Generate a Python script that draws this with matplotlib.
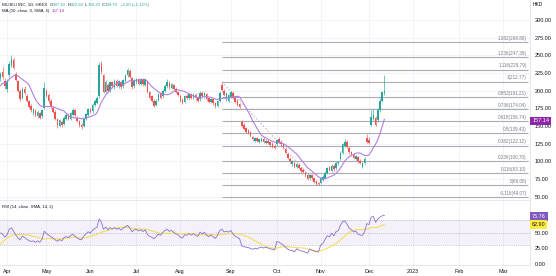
import matplotlib
matplotlib.use("Agg")
import matplotlib.pyplot as plt
import matplotlib.transforms as mtransforms
import numpy as np
import pandas as pd

plt.rcParams.update({"font.family": ["Liberation Sans", "DejaVu Sans"]})

W, H = 556, 276
UP, DOWN = "#26a69a", "#ef5350"
INK, GREY = "#131722", "#787b86"
MA_COL, RSI_COL, SIG_COL = "#b27fe0", "#8a6fd0", "#f6dc5c"

# --- data (BILIBILI INC, HKEX, daily) -------------------------------------------
hk_holidays = ["2022-04-05", "2022-04-15", "2022-04-18", "2022-05-02", "2022-05-09",
               "2022-06-03", "2022-07-01", "2022-09-12", "2022-10-04", "2022-12-26",
               "2022-12-27", "2023-01-02"]
first_day, last_axis_day = "2022-03-29", "2023-03-31"

opens = [218, 226, 214, 203, 222, 236, 243, 224, 213, 200, 190, 202, 192, 185, 178, 168,
         172, 164, 168, 164, 175, 200, 194, 186, 176, 170, 160, 150, 156, 153, 160, 166,
         160, 166, 172, 162, 157, 152, 150, 160, 166, 174, 171, 180, 183, 192, 238, 222,
         198, 208, 200, 212, 205, 214, 206, 212, 206, 214, 222, 228, 218, 206, 212, 216,
         210, 216, 208, 214, 198, 192, 186, 180, 187, 196, 192, 200, 206, 211, 204, 208,
         203, 198, 193, 187, 184, 193, 189, 195, 190, 194, 190, 188, 197, 192, 195, 189,
         184, 188, 182, 179, 186, 208, 200, 188, 186, 191, 197, 190, 186, 181, 156, 152,
         147, 144, 141, 134, 129, 133, 128, 129, 132, 126, 129, 127, 125, 122, 124, 132,
         128, 124, 118, 110, 104, 96, 98, 92, 95, 90, 88, 84, 80, 76, 80, 76, 72, 69,
         70, 74, 77, 84, 92, 87, 94, 90, 97, 104, 112, 122, 128, 119, 113, 110, 104, 106,
         101, 92, 98, 133, 130, 152, 160, 162, 158, 172, 186, 197.1]
highs = [226, 233, 218, 216, 242, 251, 246, 227, 215, 203, 205, 206, 195, 187, 181, 176,
         174, 172, 170, 174, 212, 203, 196, 188, 178, 172, 162, 160, 158, 164, 168, 168,
         170, 175, 174, 164, 159, 154, 162, 169, 176, 176, 182, 188, 192, 240, 242, 224,
         215, 211, 214, 214, 216, 216, 215, 214, 217, 224, 232, 230, 219, 216, 218, 218,
         218, 218, 218, 215, 200, 194, 188, 188, 197, 198, 202, 209, 216, 213, 211, 210,
         205, 200, 195, 189, 194, 195, 197, 197, 196, 196, 192, 199, 199, 198, 197, 191,
         190, 190, 184, 187, 199, 212.77, 202, 197, 195, 199, 199, 192, 188, 183, 158, 154,
         149, 146, 143, 136, 135, 135, 133, 134, 134, 131, 131, 129, 127, 124, 132, 134,
         130, 126, 120, 112, 106, 102, 100, 98, 97, 92, 90, 86, 82, 82, 82, 78, 74, 71,
         78, 80, 86, 92, 94, 96, 96, 99, 101, 114, 126, 131, 130, 121, 115, 112, 109, 108,
         103, 99, 106, 138, 134, 172, 174, 164, 176, 190, 199, 222.6]
lows = [214, 217, 203, 198, 220, 233, 230, 213, 198, 186, 188, 194, 184, 175, 170, 166,
        163, 162, 160, 162, 174, 191, 183, 176, 168, 158, 147, 148, 149, 151, 158, 158,
        158, 164, 163, 155, 149, 146, 148, 158, 164, 168, 169, 178, 181, 190, 224, 196,
        196, 198, 198, 204, 203, 205, 204, 203, 204, 212, 220, 218, 202, 204, 210, 208,
        208, 207, 206, 196, 188, 184, 177, 178, 185, 188, 190, 198, 204, 203, 202, 200,
        196, 192, 184, 181, 182, 188, 187, 188, 188, 187, 184, 186, 190, 190, 186, 182,
        182, 180, 176, 177, 184, 199, 192, 186, 184, 189, 188, 182, 178, 175, 148, 144,
        140, 138, 134, 129, 127, 127, 126, 127, 126, 124, 124, 121, 119, 117, 122, 126,
        122, 118, 110, 103, 98, 94, 90, 90, 89, 84, 83, 78, 73, 74, 74, 69, 67, 66.08,
        68, 72, 75, 82, 86, 85, 87, 88, 95, 102, 110, 120, 119, 111, 108, 103, 102, 98,
        96, 90.5, 96, 126, 124, 150, 158, 150, 156, 170, 184, 193.2]
closes = [224, 220, 206, 214, 238, 245, 232, 215, 200, 188, 203, 196, 186, 177, 172, 174,
          165, 170, 162, 172, 204, 193, 185, 178, 170, 160, 152, 158, 151, 162, 166, 160,
          168, 172, 165, 157, 151, 149, 160, 167, 174, 170, 180, 186, 190, 236, 226, 198,
          212, 200, 212, 206, 214, 207, 213, 205, 215, 222, 229, 220, 205, 214, 216, 210,
          216, 209, 216, 198, 190, 186, 179, 186, 195, 190, 200, 207, 212, 205, 209, 202,
          198, 194, 186, 183, 192, 190, 195, 190, 194, 189, 186, 197, 192, 196, 188, 184,
          188, 182, 178, 185, 197, 201, 194, 196, 194, 198, 190, 184, 180, 177, 150, 146,
          142, 140, 136, 131, 133, 129, 131, 132, 128, 129, 126, 123, 121, 119, 130, 128,
          124, 120, 112, 105, 100, 100, 92, 96, 91, 86, 85, 80, 75, 80, 76, 71, 68, 67.5,
          76, 78, 84, 90, 88, 94, 89, 97, 99, 112, 124, 127, 121, 113, 110, 105, 107, 100,
          98, 97, 104, 128, 126, 163, 166, 152, 172, 185, 197.5, 199.7]
# closes of March 2022 before the left edge, only used to warm up MA / RSI
pre_closes = [232, 226, 220, 212, 204, 196, 185, 170, 152, 134, 176, 190, 200, 196, 206,
              214, 210, 204, 212, 216]

fib_levels = ["1.382", "1.236", "1.116", "1", "0.853", "0.736", "0.618", "0.5", "0.382",
              "0.236", "0.116", "0", "-0.116"]
fib_prices = [268.80, 247.39, 229.79, 212.77, 191.21, 174.04, 156.74, 139.43, 122.12,
              100.70, 83.10, 66.08, 49.07]
fib_high_day, fib_low_day = "2022-08-26", "2022-10-31"

price_ticks = [50, 75, 100, 125, 150, 175, 200, 225, 250, 275, 300]
rsi_ticks = [0, 25, 50]
ma_last, rsi_last, rsi_sig_last = "157.14", "75.76", "62.90"

# --- indicators -------------------------------------------------------------------
days = pd.bdate_range(first_day, last_axis_day, freq="C", holidays=hk_holidays)
n = len(closes)
idx = np.arange(n)
allc = pd.Series(pre_closes + closes, dtype=float)
ma10 = allc.rolling(10).mean().values[-n:]
delta = allc.diff()
gain = delta.clip(lower=0).ewm(alpha=1 / 14, adjust=False).mean()
loss = (-delta.clip(upper=0)).ewm(alpha=1 / 14, adjust=False).mean()
rsi_all = 100 - 100 / (1 + gain / loss)
rsi = rsi_all.values[-n:]
rsi_sig = rsi_all.rolling(14).mean().values[-n:]

month_pos, month_lab = [], []
for k in range(1, len(days)):
    if days[k].month != days[k - 1].month:
        month_pos.append(k)
        month_lab.append(str(days[k].year) if days[k].month == 1 else days[k].strftime("%b"))

# --- figure -------------------------------------------------------------------------
fig = plt.figure(figsize=(W / 100, H / 100), dpi=100)
fig.patch.set_facecolor("white")


def px_axes(l, t, r, b):
    return fig.add_axes([l / W, 1 - b / H, (r - l) / W, (b - t) / H])


ax = px_axes(0, 0, 530, 200)
axr = px_axes(0, 201, 530, 265)
xmin, xmax = -0.18, 241.4

for a in (ax, axr):
    a.set_xlim(xmin, xmax)
    for s in ("top", "left"):
        a.spines[s].set_visible(False)
    for s in ("right", "bottom"):
        a.spines[s].set_color("#e0e3eb")
        a.spines[s].set_linewidth(0.6)
    for p in month_pos:
        a.axvline(p, color="#f0f3fa", lw=0.6, zorder=0)
    a.yaxis.tick_right()
    a.tick_params(axis="y", length=0, pad=3.5, labelsize=4, colors=INK)

# main pane
ax.set_ylim(45.3, 328.3)
ax.set_yticks(price_ticks, [f"{t:.2f}" for t in price_ticks])
ax.set_xticks([])
for t in price_ticks:
    ax.axhline(t, color="#f0f3fa", lw=0.6, zorder=0)

i_hi, i_lo = days.get_loc(pd.Timestamp(fib_high_day)), days.get_loc(pd.Timestamp(fib_low_day))
fib_end = xmax - 0.8
ax.hlines(fib_prices, i_hi, fib_end, color="#a9acb5", lw=0.8, zorder=1)
for lvl, p in zip(fib_levels, fib_prices):
    ax.annotate(f"{lvl}({p:.2f})", xy=(fib_end - 0.6, p), xytext=(0, 0.9),
                textcoords="offset points", ha="right", va="bottom", fontsize=3.3, color=GREY)
ax.plot([i_hi, i_lo], [fib_prices[3], fib_prices[11]], color="#b2b5be", lw=0.6,
        dashes=(2, 2), zorder=1)

o, h, l, c = (np.array(v, dtype=float) for v in (opens, highs, lows, closes))
cols = np.where(c >= o, UP, DOWN)
ax.vlines(idx, l, h, colors=cols, lw=0.45, zorder=3)
body = np.maximum(np.abs(c - o), 0.6)
ax.bar(idx, body, bottom=np.minimum(o, c), width=0.72, color=cols, lw=0, zorder=3)
ax.plot(idx, ma10, color=MA_COL, lw=0.8, zorder=4)

yx = mtransforms.blended_transform_factory(ax.transAxes, ax.transData)
ax.text(1.004, float(ma_last), ma_last, transform=yx, ha="left", va="center", fontsize=4,
        color="white", clip_on=False, zorder=6,
        bbox=dict(boxstyle="square,pad=0.3", fc="#8e24aa", ec="none"))
fig.text(533 / W, 1 - 5 / H, "HKD", fontsize=3.6, color=INK, va="center")

# RSI pane
axr.set_ylim(-1.4, 100.2)
axr.axhspan(30, 70, color="#7e57c2", alpha=0.08, lw=0, zorder=0)
for lvl in (70, 50, 30):
    axr.axhline(lvl, color="#9598a1", lw=0.45, dashes=(1.2, 1.8), zorder=1)
axr.plot(idx, rsi_sig, color=SIG_COL, lw=0.8, zorder=2)
axr.plot(idx, rsi, color=RSI_COL, lw=0.6, zorder=3)
axr.set_yticks(rsi_ticks, [f"{t:.2f}" for t in rsi_ticks])
axr.set_xticks(month_pos, month_lab)
axr.tick_params(axis="x", length=0, pad=3, labelsize=3.9, colors=INK)
ry = mtransforms.blended_transform_factory(axr.transAxes, axr.transData)
for val, fc, tc in ((rsi_last, "#7e57c2", "white"), (rsi_sig_last, "#ffeb3b", INK)):
    axr.text(1.004, float(val), val, transform=ry, ha="left", va="center", fontsize=4,
             color=tc, clip_on=False, zorder=6,
             bbox=dict(boxstyle="square,pad=0.3", fc=fc, ec="none"))


# legends (coloured pieces chained one after another)
def chain(x, y, parts, size):
    t = fig.text(x / W, 1 - y / H, parts[0][0], color=parts[0][1], fontsize=size, va="center")
    for s, col, gap in parts[1:]:
        t = ax.annotate(s, xy=(1, 0), xycoords=t, xytext=(gap, 0), textcoords="offset points",
                        color=col, fontsize=size, va="bottom", annotation_clip=False)


chain(2, 4.8, [("BILIBILI INC, 1D, HKEX", INK), ("O", INK, 1.5), ("197.10", UP, 0),
               ("H", INK, 1.2), ("222.60", UP, 0), ("L", INK, 1.2), ("193.20", UP, 0),
               ("C", INK, 1.2), ("199.70", UP, 0), ("+2.20 (+1.12%)", UP, 1.2)], 3.1)
chain(2, 10.8, [("MA (10, close, 0, SMA, 5)", INK), (ma_last, "#9c27b0", 1.5)], 3.1)
chain(2, 207, [("RSI (14, close, SMA, 14, 2)", INK), (rsi_last, "#7e57c2", 1.5),
               (rsi_sig_last, "#e6c200", 1.2), ("0", INK, 1.2), ("0", INK, 1.2)], 3.1)

fig.savefig("out.png", dpi=100, facecolor="white")
